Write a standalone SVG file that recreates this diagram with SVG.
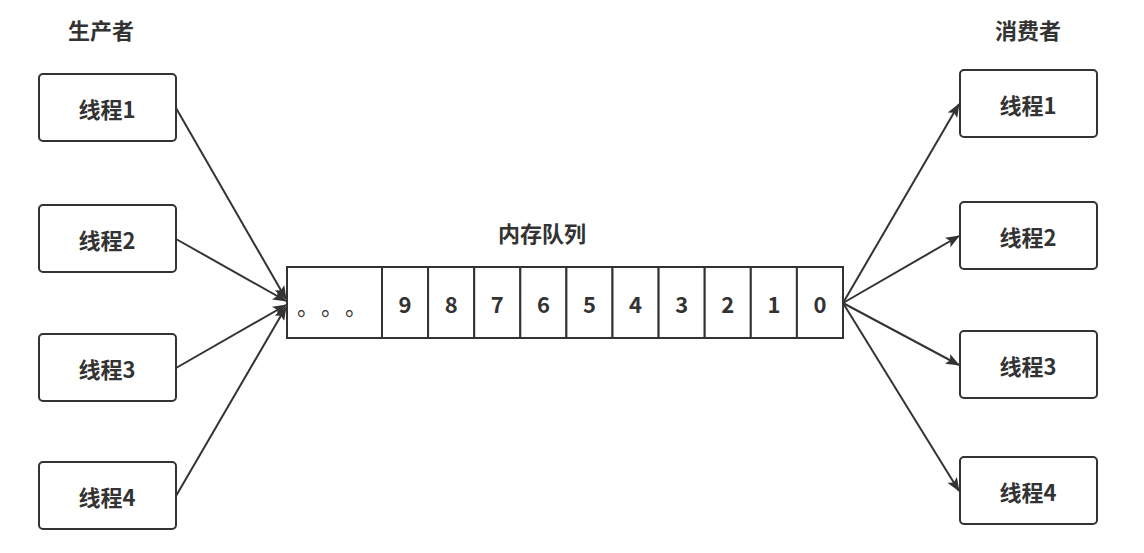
<svg xmlns="http://www.w3.org/2000/svg" width="1144" height="553" viewBox="0 0 1144 553">
<style>
.box{fill:#fff;stroke:#333;stroke-width:2}
.t{font-family:"Noto Sans CJK SC","Liberation Sans",sans-serif;font-weight:bold;font-size:22px;fill:#333;text-anchor:middle;dominant-baseline:central}
.c{fill:#fff;stroke:#333;stroke-width:2}
.e{stroke:#333;stroke-width:2;fill:none;marker-end:url(#ah)}
</style>
<defs>
<marker id="ah" viewBox="0 0 14 11" refX="13" refY="5.5" markerWidth="14" markerHeight="11" markerUnits="userSpaceOnUse" orient="auto">
<path d="M0,0 L14,5.5 L0,11 L3,5.5 Z" fill="#333"/>
</marker>
</defs>
<rect width="1144" height="553" fill="#fff"/>
<text class="t" x="101" y="29">生产者</text>
<text class="t" x="1028" y="29">消费者</text>
<text class="t" x="542" y="232">内存队列</text>
<g id="connectors">
<line class="e" x1="176" y1="108" x2="286" y2="299"/>
<line class="e" x1="176" y1="239" x2="286" y2="301"/>
<line class="e" x1="176" y1="368" x2="286" y2="305"/>
<line class="e" x1="176" y1="496" x2="286" y2="307"/>
<line class="e" x1="843" y1="303" x2="959" y2="104"/>
<line class="e" x1="843" y1="303" x2="959" y2="236"/>
<line class="e" x1="843" y1="303" x2="959" y2="365"/>
<line class="e" x1="843" y1="303" x2="959" y2="491"/>
</g>
<g id="p1"><rect class="box" x="39" y="74" width="137" height="67" rx="4"/><text class="t" x="107" y="108">线程1</text></g>
<g id="p2"><rect class="box" x="39" y="205" width="137" height="67" rx="4"/><text class="t" x="107" y="239">线程2</text></g>
<g id="p3"><rect class="box" x="39" y="334" width="137" height="67" rx="4"/><text class="t" x="107" y="368">线程3</text></g>
<g id="p4"><rect class="box" x="39" y="462" width="137" height="67" rx="4"/><text class="t" x="107" y="496">线程4</text></g>
<g id="c1"><rect class="box" x="960" y="70" width="137" height="67" rx="4"/><text class="t" x="1028" y="104">线程1</text></g>
<g id="c2"><rect class="box" x="960" y="202" width="137" height="67" rx="4"/><text class="t" x="1028" y="236">线程2</text></g>
<g id="c3"><rect class="box" x="960" y="331" width="137" height="67" rx="4"/><text class="t" x="1028" y="365">线程3</text></g>
<g id="c4"><rect class="box" x="960" y="457" width="137" height="67" rx="4"/><text class="t" x="1028" y="491">线程4</text></g>
<g id="queue">
<rect class="c" x="287" y="267" width="95" height="71"/>
<text x="297 321 345" y="315" font-family="Noto Sans CJK SC, sans-serif" font-size="22" fill="#333">。。。</text>
<rect class="c" x="382" y="267" width="46.1" height="71"/><text class="t" x="405" y="303">9</text>
<rect class="c" x="428.1" y="267" width="46.1" height="71"/><text class="t" x="451.2" y="303">8</text>
<rect class="c" x="474.2" y="267" width="46.1" height="71"/><text class="t" x="497.3" y="303">7</text>
<rect class="c" x="520.3" y="267" width="46.1" height="71"/><text class="t" x="543.4" y="303">6</text>
<rect class="c" x="566.4" y="267" width="46.1" height="71"/><text class="t" x="589.5" y="303">5</text>
<rect class="c" x="612.5" y="267" width="46.1" height="71"/><text class="t" x="635.6" y="303">4</text>
<rect class="c" x="658.6" y="267" width="46.1" height="71"/><text class="t" x="681.7" y="303">3</text>
<rect class="c" x="704.7" y="267" width="46.1" height="71"/><text class="t" x="727.8" y="303">2</text>
<rect class="c" x="750.8" y="267" width="46.1" height="71"/><text class="t" x="773.9" y="303">1</text>
<rect class="c" x="796.9" y="267" width="46.1" height="71"/><text class="t" x="820" y="303">0</text>
</g>
</svg>
